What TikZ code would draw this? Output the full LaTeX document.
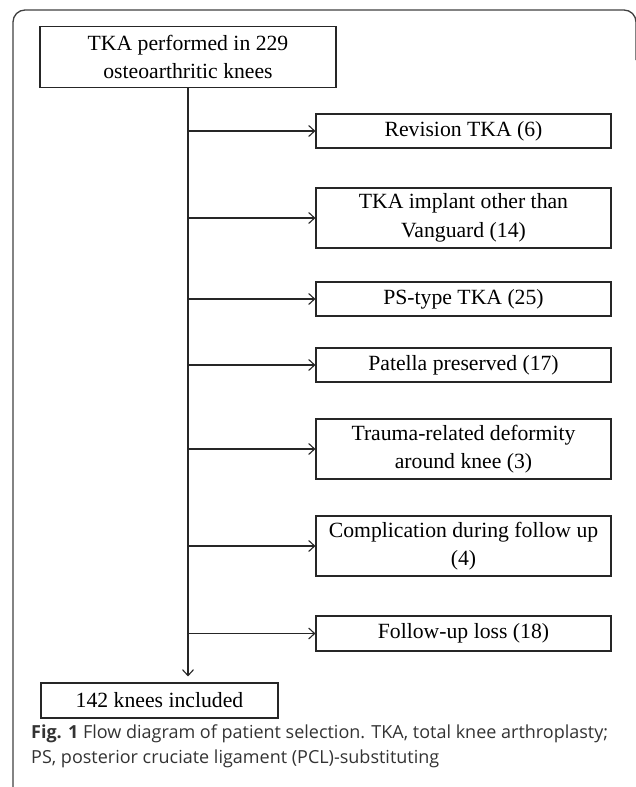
\documentclass[tikz,border=0pt]{standalone}
\usepackage{fontspec}
\setmainfont{Liberation Serif}
\newfontfamily\capfont{Open Sans}
\usetikzlibrary{arrows.meta,positioning}

\begin{document}
\begin{tikzpicture}[x=1pt, y=-1pt,
    box/.style={draw=black!85, line width=1.1pt, align=center, inner sep=0pt,
        font=\fontsize{21.7}{28.5}\selectfont},
    side/.style={box, minimum width=295pt},
    link/.style={line width=1.1pt, black!85, -{Straight Barb[length=6pt, width=11pt, line width=1.1pt]}}]
    \useasboundingbox (0,0) rectangle (635,787);
    % outer frame, open at the bottom
    \draw [line width=1.3pt, black!75, rounded corners=12pt] (13,790) -- (13,10) -- (636,10) -- (636,60);

    \node [box, minimum width=296pt, minimum height=61pt] (start) at (188,57) {TKA performed in 229\\osteoarthritic knees};

    \node [side, minimum height=34pt] (r1) at (463.5,131) {Revision TKA (6)};
    \node [side, minimum height=60pt] (r2) at (463.5,218) {TKA implant other than\\Vanguard (14)};
    \node [side, minimum height=34pt] (r3) at (463.5,299) {PS-type TKA (25)};
    \node [side, minimum height=34pt] (r4) at (463.5,365) {Patella preserved (17)};
    \node [side, minimum height=60pt] (r5) at (463.5,449) {Trauma-related deformity\\around knee (3)};
    \node [side, minimum height=60pt] (r6) at (463.5,546) {Complication during follow up\\(4)};
    \node [side, minimum height=35pt] (r7) at (463.5,633.5) {Follow-up loss (18)};

    \node [box, minimum width=237pt, minimum height=35pt] (final) at (159.5,700.5) {142 knees included};

    \draw [link, shorten >=6pt] (start.south) -- (start.south |- final.north);
    \foreach \i in {1,...,7}
        \draw [link] (start.south |- r\i.west) -- (r\i.west);

    % caption
    \node [anchor=base west, inner sep=0pt, text=black!80, font=\capfont\fontsize{18}{25}\selectfont] (cap1) at (31,738)
        {\textbf{Fig. 1} Flow diagram of patient selection. TKA, total knee arthroplasty;};
    \node [anchor=base west, inner sep=0pt, text=black!80, font=\capfont\fontsize{18}{25}\selectfont] (cap2) at (31,763)
        {PS, posterior cruciate ligament (PCL)-substituting};
\end{tikzpicture}
\end{document}
